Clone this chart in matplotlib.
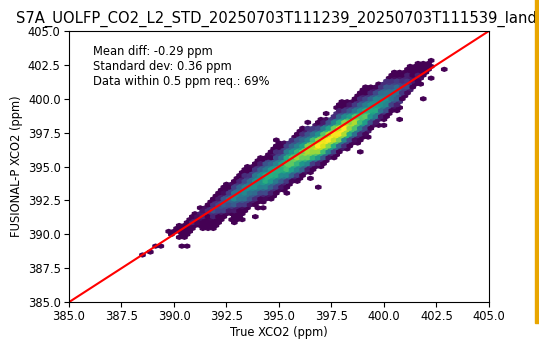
import numpy as np
import matplotlib
matplotlib.use('Agg')
from matplotlib import pyplot as plt
from matplotlib.patches import Rectangle

title = 'S7A_UOLFP_CO2_L2_STD_20250703T111239_20250703T111539_land'
stats = ['Mean diff: -0.29 ppm', 'Standard dev: 0.36 ppm', 'Data within 0.5 ppm req.: 69%']
ticks = [385.0, 387.5, 390.0, 392.5, 395.0, 397.5, 400.0, 402.5, 405.0]

# dense band: one column per true XCO2 value,
# rows are the offset (FUSIONAL-P - true), digits = colour level 1 (purple) .. 9 (yellow)
band_x = [390.0, 390.5, 391.0, 391.5, 392.0, 392.5, 393.0, 393.5, 394.0, 394.5,
          395.0, 395.5, 396.0, 396.5, 397.0, 397.5, 398.0, 398.5, 399.0, 399.5,
          400.0, 400.5, 401.0, 401.5, 402.0]
band_d = [1.75, 1.5, 1.25, 1.0, 0.75, 0.5, 0.25, 0.0,
          -0.25, -0.5, -0.75, -1.0, -1.25, -1.5, -1.75, -2.0, -2.25]
band_levels = [
    '....  ..1.  ....  ....  .',
    '....  ...1  .1..  ....  .',
    '....  ..12  1...  ....  .',
    '....  .122  1.1.  ....  .',
    '....  1.23  321.  1...  .',
    '...1  1234  3321  ....  .',
    '...1  2344  5432  1.1.  .',
    '..1.  2345  5443  21..  .',
    '..12  3455  5543  21..  .',
    '..1.  3456  6654  321.  .',
    '.1.2  3456  6654  321.  .',
    '..23  4567  7765  421.  .',
    '.1.3  4567  8765  431.  .',
    '..23  4578  8876  421.  .',
    '..12  4578  9987  531.  .',
    '...2  4578  9987  531.  .',
    '.1.2  4578  9987  431.  .',
    '..12  3467  8876  421.  .',
    '.1.2  3456  7765  321.  .',
    '..12  3455  6654  21..  .',
    '...2  3445  5543  1...  .',
    '..1.  2344  4432  1...  .',
    '...1  1223  321.  ....  .',
    '....  1112  11..  ....  .',
    '....  .1.1  ....  ....  .',
]

# single soundings away from the band
out_true = [388.46, 388.86, 389.18, 389.33, 390.43, 390.67, 390.6, 391.1, 391.4, 391.6,
            391.5, 391.6, 391.9, 392.2, 392.7, 393.1, 393.3, 393.5, 393.8, 393.9,
            394.1, 394.2, 394.05, 394.5, 394.6, 394.86, 395.0, 395.5, 396.0, 396.6,
            396.95, 396.3, 396.8, 397.3, 398.0, 398.8, 398.95, 399.3, 399.8, 400.0,
            400.0, 400.7, 400.8, 401.4, 401.6, 401.9, 402.2, 402.3, 402.8]
out_fus = [388.42, 388.76, 389.08, 389.15, 389.13, 389.13, 390.44, 390.9, 391.8, 391.6,
           390.5, 390.9, 390.8, 391.3, 391.6, 391.6, 391.1, 391.9, 391.3, 391.3,
           392.0, 392.0, 395.7, 395.3, 396.2, 396.96, 393.5, 393.1, 394.4, 394.15,
           393.5, 398.2, 398.2, 398.9, 399.3, 396.0, 400.3, 397.2, 401.0, 400.9,
           398.1, 400.8, 398.4, 401.9, 401.4, 400.05, 401.5, 401.5, 402.2]

xs, ys, cs = [], [], []
sub_x = np.linspace(-0.2, 0.2, 5)
sub_d = np.linspace(-0.1, 0.1, 5)
for x0, col in zip(band_x, band_levels):
    col = col.replace(' ', '')
    for d0, ch in zip(band_d, col):
        if ch == '.':
            continue
        for a in sub_x:
            for b in sub_d:
                xs.append(x0 + a)
                ys.append(x0 + a + d0 + b)
                cs.append(int(ch))
xs += out_true
ys += out_fus
cs += [1] * len(out_true)

fig = plt.figure(figsize=(5.39, 3.41), dpi=100)
ax = fig.add_axes([0.128, 0.114, 0.779, 0.795])
ax.hexbin(xs, ys, C=cs, reduce_C_function=np.mean, gridsize=80,
          extent=(385, 405, 385, 405), cmap='viridis', vmin=1, vmax=9)
ax.plot([385, 405], [385, 405], 'r-', lw=1.5)
ax.set_xlim(385, 405)
ax.set_ylim(385, 405)
ax.set_xticks(ticks)
ax.set_yticks(ticks)
ax.set_xticklabels(['%.1f' % t for t in ticks], fontsize=8.3)
ax.set_yticklabels(['%.1f' % t for t in ticks], fontsize=8.3)
ax.tick_params(pad=2.5)
ax.set_xlabel('True XCO2 (ppm)', fontsize=8.3, labelpad=2)
ax.set_ylabel('FUSIONAL-P XCO2 (ppm)', fontsize=8.3, labelpad=3)
ax.text(0.057, 0.95, '\n'.join(stats), transform=ax.transAxes, va='top', fontsize=8.3)

fig.text(16 / 539, 1 - 23 / 341, title, fontsize=10.6, va='baseline')
fig.patches.append(Rectangle((535 / 539, 18 / 341), 4 / 539, 1, transform=fig.transFigure,
                             color='#e9a600', zorder=5))

fig.savefig('out.png', dpi=100)
